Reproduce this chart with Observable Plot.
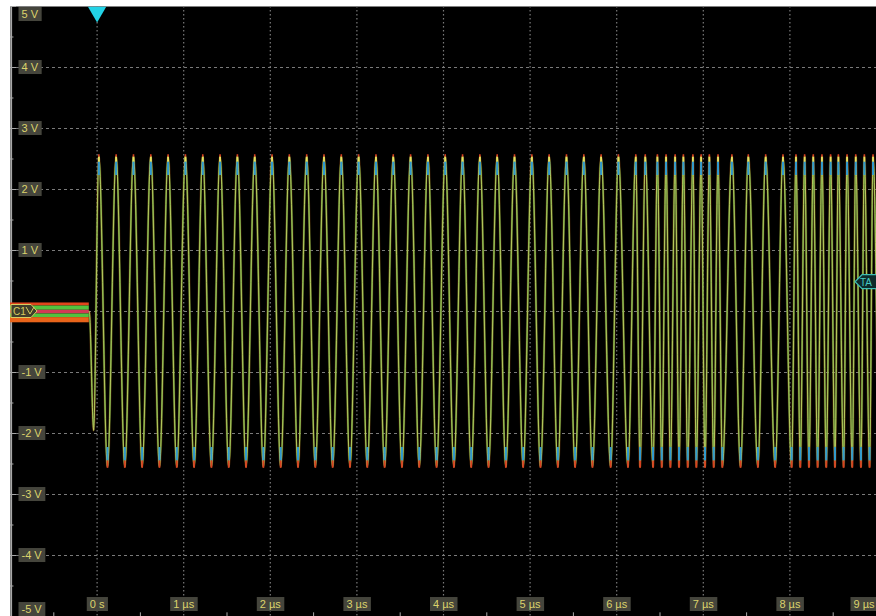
<!DOCTYPE html>
<html><head><meta charset="utf-8">
<script src="https://cdn.jsdelivr.net/npm/d3@7"></script>
<script src="https://cdn.jsdelivr.net/npm/@observablehq/plot@0.6"></script>
<style>html,body{margin:0;padding:0;background:#fff;overflow:hidden}#chart svg{display:block}</style>
</head><body><div id="chart"></div>
<script>
// ---- data ----
const timeTicks = [0, 1, 2, 3, 4, 5, 6, 7, 8, 9];
const timeTickLabels = ["0 s", "1 µs", "2 µs", "3 µs", "4 µs", "5 µs", "6 µs", "7 µs", "8 µs", "9 µs"];
const voltTicks = [5, 4, 3, 2, 1, -1, -2, -3, -4, -5];
const voltTickLabels = ["5 V", "4 V", "3 V", "2 V", "1 V", "-1 V", "-2 V", "-3 V", "-4 V", "-5 V"];
const gridVolts = [-4, -3, -2, -1, 0, 1, 2, 3, 4];
const gridTimes = [0, 1, 2, 3, 4, 5, 6, 7, 8];
const minorTimes = [-0.5, 0.5, 1.5, 2.5, 3.5, 4.5, 5.5, 6.5, 7.5, 8.5];
const minorVolts = [4.5, 3.5, 2.5, 1.5, 0.5, -0.5, -1.5, -2.5, -3.5, -4.5];

// waveform extrema (µs)
const peakTimes = [0.02, 0.22, 0.42, 0.62, 0.82, 1.02, 1.22, 1.42, 1.62, 1.82,
  2.02, 2.22, 2.42, 2.62, 2.82, 3.02, 3.22, 3.42, 3.62, 3.82,
  4.02, 4.22, 4.42, 4.62, 4.82, 5.02, 5.22, 5.42, 5.62, 5.82, 6.02, 6.22,
  6.33, 6.47, 6.57, 6.675, 6.77, 6.88, 6.975, 7.07, 7.17,
  7.33, 7.52, 7.72, 7.92,
  8.07, 8.17, 8.27, 8.37, 8.47, 8.56, 8.66, 8.76, 8.86, 8.96];
const troughTimes = [0.12, 0.32, 0.52, 0.72, 0.92, 1.12, 1.32, 1.52, 1.72, 1.92,
  2.12, 2.32, 2.52, 2.72, 2.92, 3.12, 3.32, 3.52, 3.72, 3.92,
  4.12, 4.32, 4.52, 4.72, 4.92, 5.12, 5.32, 5.52, 5.72, 5.93, 6.13,
  6.27, 6.42, 6.52, 6.62, 6.72, 6.82, 6.92, 7.02, 7.12, 7.22,
  7.43, 7.63, 7.83,
  8.02, 8.12, 8.22, 8.32, 8.42, 8.52, 8.62, 8.72, 8.82, 8.92, 9.02];
const peakLevel = 2.55;
const troughLevel = -2.55;
const preTriggerTimes = [-1, -0.09];
const preTriggerLevel = 0;
const firstDipTime = -0.04;
const firstDipLevel = -1.95;
// pre-trigger noise band stripe edges (V)
const bandEdges = [0.14, 0.09, 0.02, -0.04, -0.10, -0.185];
const triggerLevel = 0.48;

// ---- styling ----
const bandColors = ["#e0441c", "#52c23e", "#d23a56", "#52c23e", "#e8641a"];
const labelColor = "#dcd36c";
const boxColor = "#45453c";
const gridColor = "#7a7a7a";

// ---- build tables ----
const trace = [
  ...preTriggerTimes.map(t => ({t, v: preTriggerLevel})),
  {t: firstDipTime, v: firstDipLevel},
  ...peakTimes.map(t => ({t, v: peakLevel})),
  ...troughTimes.map(t => ({t, v: troughLevel}))
].sort((a, b) => a.t - b.t);
const bands = bandEdges.slice(0, -1).map((hi, i) => ({hi, lo: bandEdges[i + 1], i}));
const xLabels = timeTicks.map((t, i) => ({t, label: timeTickLabels[i]}));
const yLabels = voltTicks.map((v, i) => ({v, label: voltTickLabels[i]}));
const xDom = [-1, 9], yDom = [-5, 5];

const txt = {fill: labelColor, fontSize: 11, fontFamily: "Liberation Sans, Arial, sans-serif"};

const plot = Plot.plot({
  width: 876, height: 616,
  marginLeft: 10, marginTop: 6, marginRight: 0, marginBottom: 0,
  x: {domain: xDom, axis: null},
  y: {domain: yDom, axis: null},
  clip: true,
  style: {background: "#fff", fontFamily: "Liberation Sans, Arial, sans-serif"},
  marks: [
    Plot.frame({fill: "#000", stroke: "none"}),
    Plot.ruleY(gridVolts, {stroke: gridColor, strokeDasharray: "3,3", strokeWidth: 1}),
    Plot.ruleX(gridTimes, {stroke: gridColor, strokeDasharray: "1.5,2.5", strokeWidth: 1.2}),
    Plot.ruleX([xDom[0]], {stroke: "#a8a8a8", strokeWidth: 1.2, dx: 1}),
    Plot.ruleY(voltTicks, {x1: xDom[0], x2: xDom[0] + 0.07, stroke: "#a8a8a8"}),
    Plot.ruleY(minorVolts, {x1: xDom[0], x2: xDom[0] + 0.04, stroke: "#a8a8a8"}),
    Plot.ruleX(minorTimes, {y1: yDom[0], y2: yDom[0] + 0.06, stroke: "#a8a8a8"}),
    // waveform layers (persistence look)
    Plot.line(trace, {x: "t", y: "v", curve: "monotone-x", stroke: "#d06a1c", strokeWidth: 2.6, strokeOpacity: 0.3}),
    Plot.line(trace, {x: "t", y: "v", curve: "monotone-x", stroke: "#4e9e3a", strokeWidth: 1.6, strokeOpacity: 0.9}),
    Plot.line(trace, {x: "t", y: "v", curve: "monotone-x", stroke: "#d6d66a", strokeWidth: 0.9, strokeOpacity: 0.85}),
    // peak / trough colour grading
    Plot.ruleX(peakTimes, {y1: peakLevel - 0.32, y2: peakLevel - 0.1, stroke: "#2f9ad0", strokeWidth: 2}),
    Plot.ruleX(peakTimes, {y1: peakLevel - 0.1, y2: peakLevel - 0.02, stroke: "#e8e060", strokeWidth: 1.8}),
    Plot.ruleX(peakTimes, {y1: peakLevel - 0.02, y2: peakLevel + 0.02, stroke: "#d84020", strokeWidth: 1.6}),
    Plot.ruleX(troughTimes, {y1: troughLevel + 0.1, y2: troughLevel + 0.32, stroke: "#2f9ad0", strokeWidth: 2}),
    Plot.ruleX(troughTimes, {y1: troughLevel - 0.02, y2: troughLevel + 0.1, stroke: "#d84020", strokeWidth: 1.8}),
    // pre-trigger noise band
    Plot.rect(bands, {x1: preTriggerTimes[0], x2: preTriggerTimes[1], y1: "lo", y2: "hi", fill: d => bandColors[d.i]}),
    // trigger position marker
    Plot.dot([0], {x: d => d, y: yDom[1], symbol: "triangle", rotate: 180, r: 6.8, fill: "#22d2e6", dy: 5.5}),
    // tick labels
    Plot.text(yLabels.filter(d => Math.abs(d.v) < 5), {x: xDom[0], y: "v", text: "label", textAnchor: "start", dx: 11, ...txt}),
    Plot.text(yLabels.filter(d => d.v === 5), {x: xDom[0], y: "v", text: "label", textAnchor: "start", dx: 11, dy: 8, ...txt}),
    Plot.text(yLabels.filter(d => d.v === -5), {x: xDom[0], y: "v", text: "label", textAnchor: "start", dx: 11, dy: -7, ...txt}),
    Plot.text(xLabels.filter(d => d.t < 9), {x: "t", y: yDom[0], text: "label", dy: -12, ...txt}),
    Plot.text(xLabels.filter(d => d.t === 9), {x: "t", y: yDom[0], text: "label", textAnchor: "end", dx: -2, dy: -12, ...txt})
  ]
});
document.getElementById("chart").appendChild(plot);

// label boxes behind tick labels
const svg = d3.select(plot);
const allLabels = new Set([...timeTickLabels, ...voltTickLabels]);
svg.selectAll("text").each(function () {
  if (!allLabels.has(this.textContent)) return;
  const g = this.parentNode;
  const b = this.getBBox();
  const r = document.createElementNS("http://www.w3.org/2000/svg", "rect");
  r.setAttribute("x", b.x - 3);
  r.setAttribute("y", b.y - 1);
  r.setAttribute("width", b.width + 6);
  r.setAttribute("height", b.height + 2);
  const tr = this.getAttribute("transform");
  if (tr) r.setAttribute("transform", tr);
  r.setAttribute("style", `fill:${boxColor};stroke:none`);
  g.insertBefore(r, this);
});

// channel and trigger-level markers
const X = plot.scale("x"), Y = plot.scale("y");
const y0 = Y.apply(preTriggerLevel);
const x0 = X.range[0] + 1;
const font = "Liberation Sans, Arial, sans-serif";
const c1 = svg.append("g").attr("text-anchor", "start");
c1.append("path").attr("d", `M${x0},${y0 - 6.5}H${x0 + 20}L${x0 + 26},${y0}L${x0 + 20},${y0 + 6.5}H${x0}Z`)
  .attr("fill", "#403e2c").attr("stroke", "#d8cc60").attr("stroke-width", 1);
c1.append("text").attr("x", x0 + 2).attr("y", y0 + 4).text("C1")
  .attr("fill", "#d8cc60").attr("font-size", 10).attr("font-family", font);
c1.append("path").attr("d", `M${x0 + 15},${y0 - 4}L${x0 + 19},${y0 + 3}L${x0 + 23},${y0 - 4}`)
  .attr("fill", "none").attr("stroke", "#d8cc60").attr("stroke-width", 1);

const yT = Y.apply(triggerLevel);
const xR = X.range[1];
const ta = svg.append("g").attr("text-anchor", "start");
ta.append("path").attr("d", `M${xR + 1},${yT - 7}H${xR - 14}L${xR - 21},${yT}L${xR - 14},${yT + 7}H${xR + 1}`)
  .attr("fill", "#0e2a2a").attr("stroke", "#3cbcb4").attr("stroke-width", 1.2);
ta.append("text").attr("x", xR - 16).attr("y", yT + 4).text("TA")
  .attr("fill", "#46c8c0").attr("font-size", 10).attr("font-family", font);
</script>
</body></html>
